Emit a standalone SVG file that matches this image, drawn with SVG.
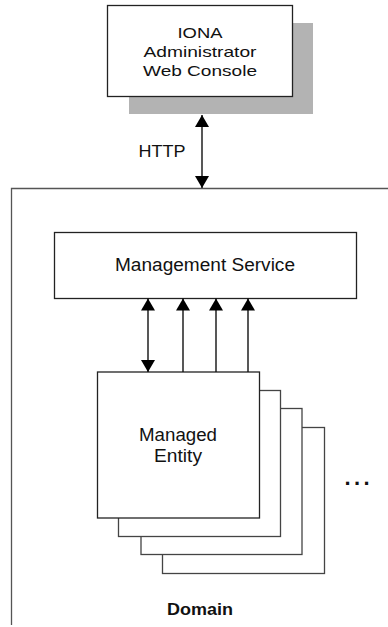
<svg xmlns="http://www.w3.org/2000/svg" width="388" height="627" viewBox="0 0 388 627">
<style>
.box{fill:#fff;stroke:#222;stroke-width:1.3}
.ent{fill:#fff;stroke:#444;stroke-width:1.3}
.t{font-family:"Liberation Sans",Arial,sans-serif;fill:#111;text-anchor:middle}
.c{stroke:#111;stroke-width:1.4;fill:none}
</style>
<defs>
<marker id="ah" markerUnits="userSpaceOnUse" markerWidth="13" markerHeight="14" refX="12" refY="7" orient="auto-start-reverse">
<path d="M0,0 L12,7 L0,14 z" fill="#000"/>
</marker>
</defs>
<g id="domain">
<path d="M11.5,625 V188.5 H400" fill="none" stroke="#555" stroke-width="1.3"/>
<text class="t" x="200" y="615" font-size="16.5" font-weight="bold" textLength="66" lengthAdjust="spacingAndGlyphs">Domain</text>
</g>
<g id="console">
<rect x="129" y="23" width="184" height="91" fill="#b3b3b3"/>
<rect class="box" x="107.5" y="5.5" width="185" height="91"/>
<text class="t" x="200" y="38.3" font-size="15" textLength="45" lengthAdjust="spacingAndGlyphs">IONA</text>
<text class="t" x="200" y="57.3" font-size="15" textLength="113" lengthAdjust="spacingAndGlyphs">Administrator</text>
<text class="t" x="200" y="75.8" font-size="15" textLength="114" lengthAdjust="spacingAndGlyphs">Web Console</text>
</g>
<g id="mgmt">
<rect class="box" x="54.5" y="232.5" width="302" height="66"/>
<text class="t" x="205" y="270.7" font-size="17.5" textLength="180" lengthAdjust="spacingAndGlyphs">Management Service</text>
</g>
<g id="entities">
<rect class="ent" x="162.5" y="427.5" width="162" height="146"/>
<rect class="ent" x="141" y="408.5" width="161" height="146"/>
<rect class="ent" x="118.5" y="390.5" width="162" height="146"/>
<rect class="box" x="97.5" y="372" width="162" height="146"/>
<text class="t" x="178" y="440.7" font-size="17.5" textLength="78" lengthAdjust="spacingAndGlyphs">Managed</text>
<text class="t" x="178" y="462.3" font-size="17.5" textLength="48" lengthAdjust="spacingAndGlyphs">Entity</text>
</g>
<g id="more">
<text class="t" x="357" y="485" font-size="22" font-weight="bold" textLength="25" lengthAdjust="spacing">...</text>
</g>
<g id="connectors">
<line class="c" x1="202" y1="115" x2="202" y2="188" marker-start="url(#ah)" marker-end="url(#ah)"/>
<text class="t" x="162" y="157" font-size="17" textLength="47" lengthAdjust="spacingAndGlyphs">HTTP</text>
<line class="c" x1="148" y1="298.5" x2="148" y2="372" marker-start="url(#ah)" marker-end="url(#ah)"/>
<line class="c" x1="183" y1="372" x2="183" y2="298.5" marker-end="url(#ah)"/>
<line class="c" x1="216" y1="372" x2="216" y2="298.5" marker-end="url(#ah)"/>
<line class="c" x1="248" y1="372" x2="248" y2="298.5" marker-end="url(#ah)"/>
</g>
</svg>
